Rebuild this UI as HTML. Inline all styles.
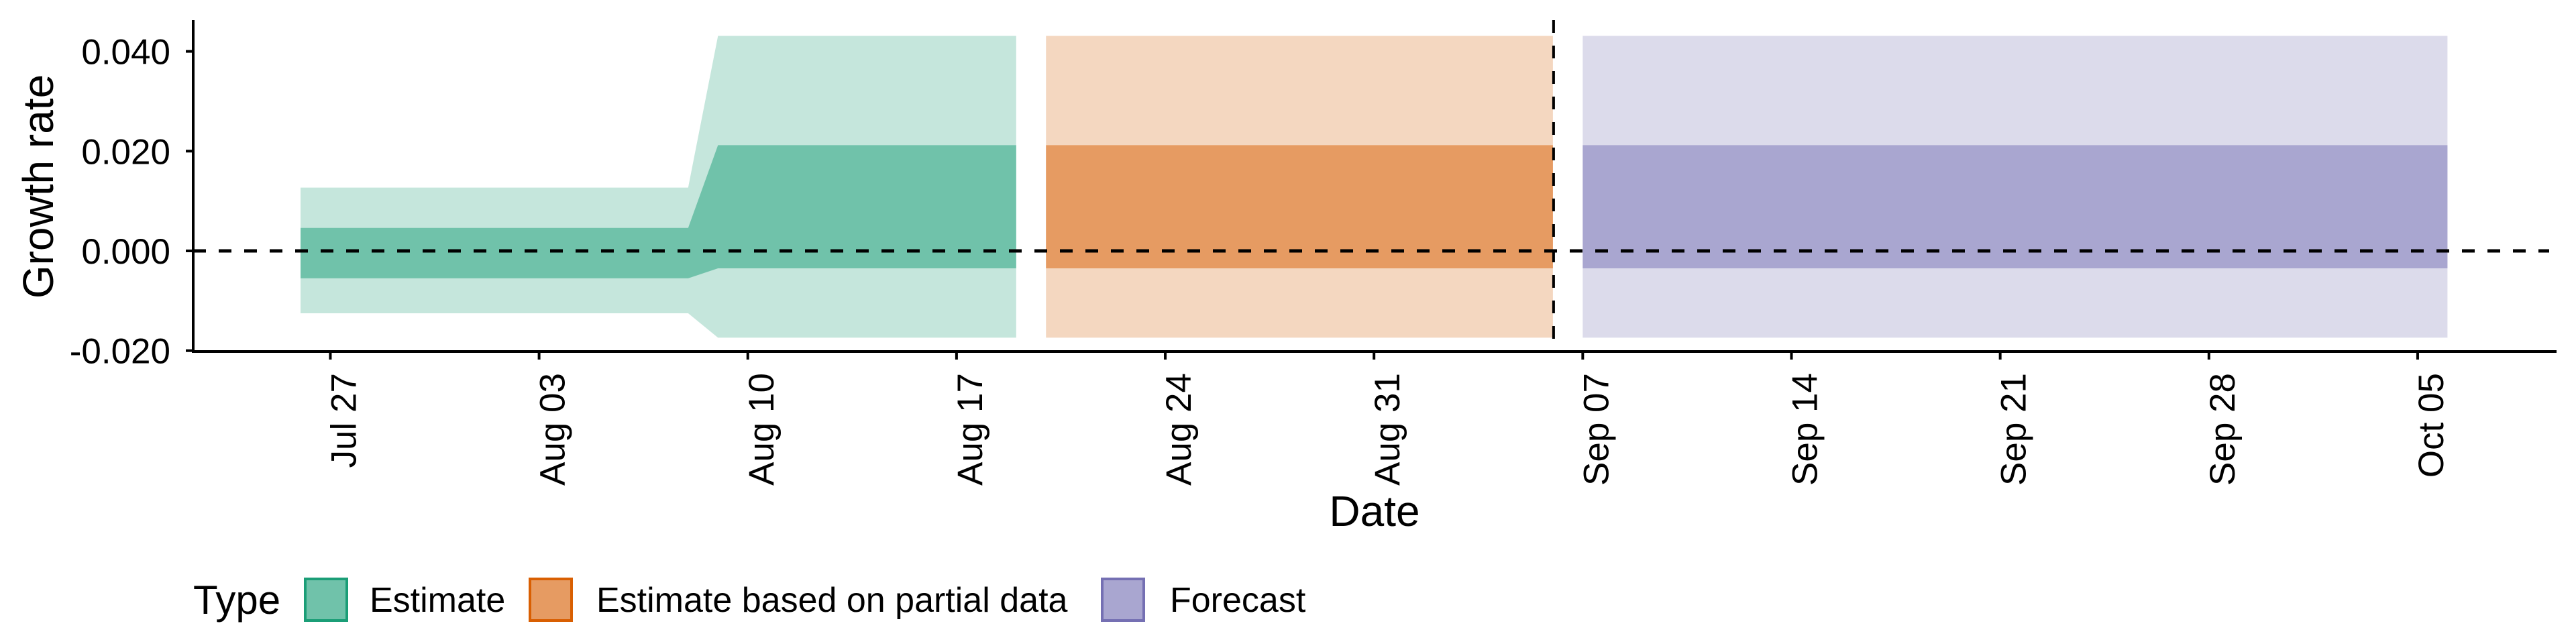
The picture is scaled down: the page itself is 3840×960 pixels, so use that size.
<!DOCTYPE html>
<html><head><meta charset="utf-8"><style>
html,body{margin:0;padding:0;background:#fff;}
svg{display:block;font-family:"Liberation Sans",sans-serif;}
</style></head><body>
<svg id="chart" width="3840" height="960" viewBox="0 0 3840 960">
<g id="bands"></g>
<g id="axes"></g>
<g id="legend"></g>
</svg>
<script>
// Data (days offset from Jul 26)
const estDays = [0, 13, 14, 24];
const estLower90 = [-0.0125, -0.0125, -0.0174, -0.0174];
const estLower50 = [-0.0055, -0.0055, -0.0035, -0.0035];
const estUpper50 = [0.0046, 0.0046, 0.0212, 0.0212];
const estUpper90 = [0.0127, 0.0127, 0.0431, 0.0431];
const partialDays = [25, 42];
const partialLower90 = [-0.0174, -0.0174];
const partialLower50 = [-0.0035, -0.0035];
const partialUpper50 = [0.0212, 0.0212];
const partialUpper90 = [0.0431, 0.0431];
const fcDays = [43, 72];
const fcLower90 = [-0.0174, -0.0174];
const fcLower50 = [-0.0035, -0.0035];
const fcUpper50 = [0.0212, 0.0212];
const fcUpper90 = [0.0431, 0.0431];
const xTickDays = [1, 8, 15, 22, 29, 36, 43, 50, 57, 64, 71];
const xTickLabels = ["Jul 27","Aug 03","Aug 10","Aug 17","Aug 24","Aug 31","Sep 07","Sep 14","Sep 21","Sep 28","Oct 05"];
const yTicks = [-0.02, 0, 0.02, 0.04];
const yTickLabels = ["-0.020","0.000","0.020","0.040"];
const vlineDay = 42;

const NS = "http://www.w3.org/2000/svg";
const X0 = 448, PXDAY = 44.45;
const Y0 = 374, PXUNIT = 148.7 / 0.02;
function xs(d){ return X0 + d * PXDAY; }
function ys(v){ return Y0 - v * PXUNIT; }
function mk(tag, attrs, parent){
  const el = document.createElementNS(NS, tag);
  for (const k in attrs) el.setAttribute(k, attrs[k]);
  parent.appendChild(el);
  return el;
}
function ribbon(days, lo, hi){
  let p = days.map((d,i)=>xs(d)+","+ys(hi[i])).join(" ");
  p += " " + days.map((d,i)=>xs(d)+","+ys(lo[i])).reverse().join(" ");
  return p;
}
const bands = document.getElementById("bands");
const series = [
  ["estimate", estDays, estLower90, estLower50, estUpper50, estUpper90, "#c5e6dc", "#70c2aa"],
  ["partial", partialDays, partialLower90, partialLower50, partialUpper50, partialUpper90, "#f4d7c0", "#e69b62"],
  ["forecast", fcDays, fcLower90, fcLower50, fcUpper50, fcUpper90, "#dcdbeb", "#a9a6d0"]
];
series.forEach(s=>{
  const outer = mk("polygon", {points: ribbon(s[1], s[2], s[5]), fill: s[6]}, bands);
  
  
  const inner = mk("polygon", {points: ribbon(s[1], s[3], s[4]), fill: s[7]}, bands);
  
  
});
const axes = document.getElementById("axes");
const hline = mk("line", {x1: 288, x2: 3800, y1: ys(0), y2: ys(0), stroke: "#000", "stroke-width": 5, "stroke-dasharray": "19 19"}, axes);


const vline = mk("line", {x1: xs(vlineDay)+1, x2: xs(vlineDay)+1, y1: 30, y2: 524, stroke: "#000", "stroke-width": 4, "stroke-dasharray": "19 19"}, axes);


const yaxis = mk("line", {x1: 288, x2: 288, y1: 30, y2: 526, stroke: "#000", "stroke-width": 4}, axes);


const xaxis = mk("line", {x1: 286, x2: 3811, y1: 524, y2: 524, stroke: "#000", "stroke-width": 4}, axes);


yTicks.forEach((v,i)=>{
  const t = mk("line", {x1: 277, x2: 288, y1: ys(v), y2: ys(v), stroke: "#000", "stroke-width": 4}, axes);
  
  
  const l = mk("text", {x: 254, y: ys(v)+19, "text-anchor": "end", "font-size": 53, fill: "#000"}, axes);
  l.textContent = yTickLabels[i];
  
  
});
xTickDays.forEach((d,i)=>{
  const x = xs(d);
  const t = mk("line", {x1: x, x2: x, y1: 524, y2: 536, stroke: "#000", "stroke-width": 4}, axes);
  
  
  const l = mk("text", {x: 0, y: 0, "text-anchor": "end", "font-size": 53, fill: "#000", transform: "translate(" + (x+38) + ",556) rotate(-90)"}, axes);
  l.textContent = xTickLabels[i];
  
  
});
const yt = mk("text", {x: 0, y: 0, "text-anchor": "middle", "font-size": 64, fill: "#000", transform: "translate(79,278) rotate(-90)"}, axes);
yt.textContent = "Growth rate";


const xt = mk("text", {x: 2049, y: 784, "text-anchor": "middle", "font-size": 64, fill: "#000"}, axes);
xt.textContent = "Date";



const legend = document.getElementById("legend");
const lt = mk("text", {x: 288, y: 915, "font-size": 60, fill: "#000"}, legend);
lt.textContent = "Type";


const legItems = [
  [455, "#70c2aa", "#1b9e77", 551, "Estimate", "legend-estimate"],
  [790, "#e69b62", "#d95f02", 889, "Estimate based on partial data", "legend-partial"],
  [1643, "#a9a6d0", "#7570b3", 1744, "Forecast", "legend-forecast"]
];
legItems.forEach(it=>{
  const g = mk("g", {}, legend);
  
  
  mk("rect", {x: it[0], y: 863, width: 62, height: 62, fill: it[1], stroke: it[2], "stroke-width": 4}, g);
  const tx = mk("text", {x: it[3], y: 912, "font-size": 52, fill: "#000"}, g);
  tx.textContent = it[4];
});
</script>
</body></html>
